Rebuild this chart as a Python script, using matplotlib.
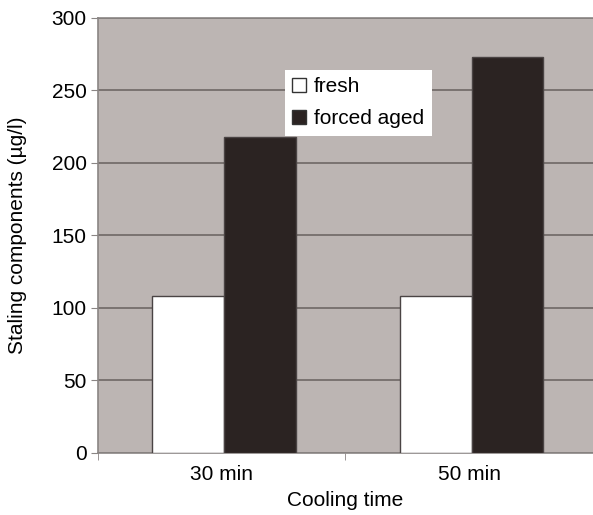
import matplotlib.pyplot as plt
import numpy as np

plt.rcParams['font.family'] = ['Liberation Sans', 'DejaVu Sans']

categories = ["30 min", "50 min"]
fresh = [108, 108]
forced_aged = [218, 273]
yticks = [0, 50, 100, 150, 200, 250, 300]

bg = "#bcb5b3"
dark = "#2b2322"
edge = "#4a4444"
fs = 15

fig = plt.figure(figsize=(5.93, 5.15), dpi=100)
ax = fig.add_axes([0.165, 0.1204, 0.835, 0.8447])
ax.set_facecolor(bg)

x = np.arange(len(categories))
w = 0.29
ax.bar(x - w / 2 + 0.01, fresh, w, color="white", edgecolor=edge, linewidth=1, label="fresh", zorder=3)
ax.bar(x + w / 2 + 0.01, forced_aged, w, color=dark, edgecolor=edge, linewidth=1, label="forced aged", zorder=3)

ax.set_xlim(-0.5, 1.5)
ax.set_ylim(0, 300)
ax.set_yticks(yticks)
ax.yaxis.grid(True, color="#6e6766", linewidth=1.2, zorder=1)
ax.set_axisbelow(True)

ax.set_xticks(x)
ax.set_xticklabels(categories)
ax.set_xticks([-0.5, 0.5, 1.5], minor=True)
ax.tick_params(axis="x", which="major", length=0, pad=9, labelsize=fs)
ax.tick_params(axis="x", which="minor", length=5, color="#8a8584")
ax.tick_params(axis="y", length=5, color="#8a8584", labelsize=fs, pad=3)

for s in ["left", "bottom", "top"]:
    ax.spines[s].set_color("#8a8584")
    ax.spines[s].set_linewidth(1.2)
ax.spines["right"].set_visible(False)

ax.set_ylabel("Staling components (µg/l)", fontsize=fs, labelpad=18)
ax.set_xlabel("Cooling time", fontsize=fs, labelpad=5)

leg = ax.legend(loc="upper left", bbox_to_anchor=(0.378, 0.88), frameon=True, fancybox=False,
                fontsize=fs, handlelength=0.65, handleheight=0.65, handletextpad=0.4,
                borderpad=0.35, labelspacing=0.62, borderaxespad=0)
leg.get_frame().set_edgecolor("white")
leg.get_frame().set_linewidth(0)
leg.get_frame().set_alpha(1)
for h in leg.legend_handles:
    h.set_edgecolor("#333333")

fig.savefig("out.png", dpi=100)
